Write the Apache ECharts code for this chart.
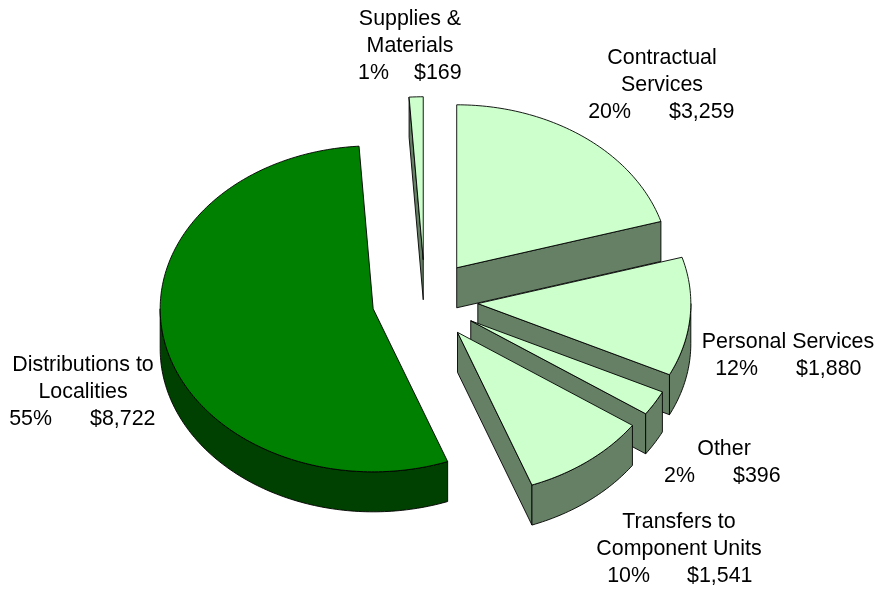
<!DOCTYPE html>
<html>
<head>
<meta charset="utf-8">
<style>
  html, body { margin: 0; padding: 0; background: #fff; }
  #main { width: 879px; height: 593px; }
</style>
</head>
<body>
<div id="main"></div>
<script src="https://cdn.jsdelivr.net/npm/echarts@6/dist/echarts.min.js"></script>
<script>
// clockwise from 12 o'clock
const categories = ['Contractual\nServices', 'Personal Services', 'Other', 'Transfers to\nComponent Units', 'Distributions to\nLocalities', 'Supplies &\nMaterials'];
const values = [3259, 1880, 396, 1541, 8722, 169];

// pie geometry
const cx = 425, cy = 300.3, rx = 213, ry = 163, depth = 40, explode = 53;

// label anchors: centre of the name lines, middle of first line, x and width of the gap on the last line
const labelPos = [
  { x: 662, y: 58, gap: 631, gapW: 38 },
  { x: 788, y: 342, gap: 758, gapW: 38 },
  { x: 724, y: 449, gap: 695, gapW: 38 },
  { x: 679, y: 522, gap: 650, gapW: 37 },
  { x: 83, y: 365, gap: 52, gapW: 38 },
  { x: 410, y: 19, gap: 389, gapW: 25 }
];

const topColor = ['#CCFFCC', '#CCFFCC', '#CCFFCC', '#CCFFCC', '#008000', '#CCFFCC'];
const sideColor = ['#668066', '#668066', '#668066', '#668066', '#004000', '#668066'];

const FONT = '"Liberation Sans", Arial, sans-serif';
const total = values.reduce((a, b) => a + b, 0);
const rad = d => d * Math.PI / 180;

function money(v) {
  return '$' + v.toLocaleString('en-US');
}

function renderItem(params, api) {
  const i = params.dataIndex;
  let start = 0;
  for (let k = 0; k < i; k++) start += values[k];
  const a0 = start / total * 360;
  const a1 = (start + values[i]) / total * 360;
  const mid = rad((a0 + a1) / 2);
  // every slice is pulled out the same distance along its middle angle
  const ox = cx + explode * Math.sin(mid);
  const oy = cy - explode * (ry / rx) * Math.cos(mid);
  const pt = (deg, dz) => [ox + rx * Math.sin(rad(deg)), oy - ry * Math.cos(rad(deg)) + (dz || 0)];

  const line = { stroke: '#000', lineWidth: 0.9, lineJoin: 'round' };
  const children = [];
  const addWall = pts => children.push({
    type: 'polygon',
    shape: { points: pts },
    style: Object.assign({ fill: sideColor[i] }, line)
  });

  // flat cut faces that turn towards the viewer
  if (Math.sin(rad(a1)) > 1e-6) {
    addWall([[ox, oy], pt(a1), pt(a1, depth), [ox, oy + depth]]);
  }
  if (Math.sin(rad(a0)) < -1e-6) {
    addWall([[ox, oy], pt(a0), pt(a0, depth), [ox, oy + depth]]);
  }

  // rim, only the front half of the ellipse shows
  const w0 = Math.max(a0, 90), w1 = Math.min(a1, 270);
  if (w1 > w0) {
    const rim = [];
    for (let d = w0; d < w1; d += 1) rim.push(pt(d));
    rim.push(pt(w1));
    for (let d = w1; d > w0; d -= 1) rim.push(pt(d, depth));
    rim.push(pt(w0, depth));
    addWall(rim);
  }

  // top face
  const face = [[ox, oy]];
  for (let d = a0; d < a1; d += 1) face.push(pt(d));
  face.push(pt(a1));
  children.push({
    type: 'polygon',
    shape: { points: face },
    style: Object.assign({ fill: topColor[i] }, line)
  });

  // label
  const lp = labelPos[i];
  const nameLines = categories[i].split('\n');
  const txt = (text, x, y, align) => ({
    type: 'text',
    z2: 10,
    style: { text: text, x: x, y: y, align: align, verticalAlign: 'middle', fill: '#000', font: '21.4px ' + FONT }
  });
  nameLines.forEach((s, n) => children.push(txt(s, lp.x, lp.y + n * 27, 'center')));
  const lastY = lp.y + nameLines.length * 27;
  children.push(txt(Math.round(values[i] / total * 100) + '%', lp.gap, lastY, 'right'));
  children.push(txt(money(values[i]), lp.gap + lp.gapW, lastY, 'left'));

  return { type: 'group', children: children };
}

const myChart = echarts.init(document.getElementById('main'), null, { renderer: 'canvas' });
myChart.setOption({
  animation: false,
  backgroundColor: '#fff',
  series: [{
    type: 'custom',
    coordinateSystem: 'none',
    silent: true,
    renderItem: renderItem,
    data: values.map((v, i) => ({ name: categories[i], value: v }))
  }]
});
</script>
</body>
</html>
